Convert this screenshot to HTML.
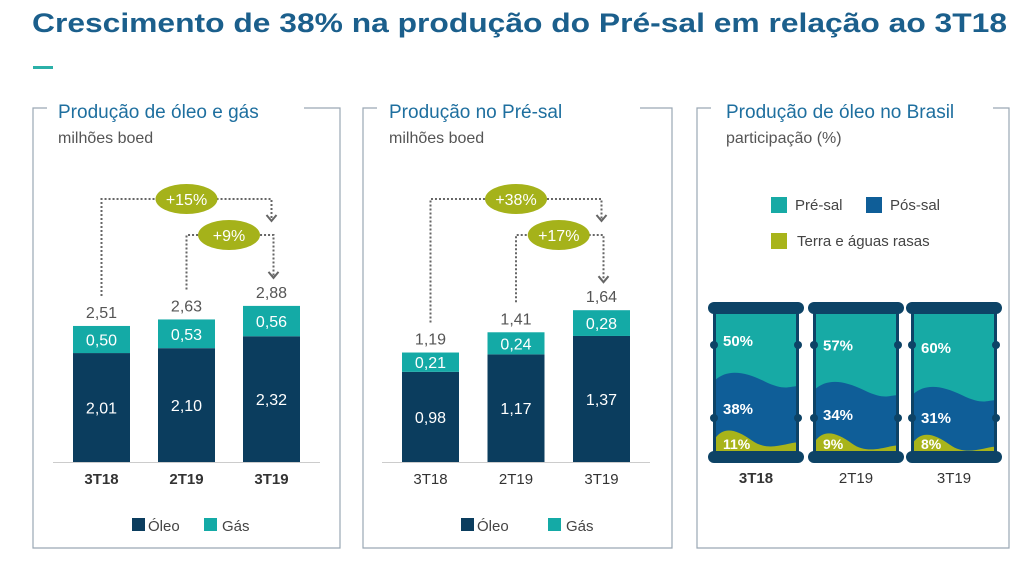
<!DOCTYPE html>
<html><head><meta charset="utf-8">
<style>
html,body{margin:0;padding:0;background:#fff;}
svg{display:block;font-family:"Liberation Sans",sans-serif;}
</style></head>
<body>
<svg id="s" width="1024" height="563" viewBox="0 0 1024 563" xmlns="http://www.w3.org/2000/svg">
  <text x="32" y="32" font-size="27" font-weight="bold" fill="#1b5f8c" textLength="975" lengthAdjust="spacingAndGlyphs">Crescimento de 38% na produção do Pré-sal em relação ao 3T18</text>
  <rect x="33" y="66" width="20" height="3" fill="#2bb0a8"/>

  <path d="M47,108 H33 V548 H340 V108 H304" fill="none" stroke="#9aa8b4" stroke-width="1.2"/>
  <path d="M377,108 H363 V548 H672 V108 H640" fill="none" stroke="#9aa8b4" stroke-width="1.2"/>
  <path d="M711,108 H697 V548 H1009 V108 H993" fill="none" stroke="#9aa8b4" stroke-width="1.2"/>

  <text x="58" y="118" font-size="19" fill="#1e6f9f">Produção de óleo e gás</text>
  <text x="58" y="143" font-size="16" fill="#555">milhões boed</text>
  <text x="389" y="118" font-size="19" fill="#1e6f9f">Produção no Pré-sal</text>
  <text x="389" y="143" font-size="16" fill="#555">milhões boed</text>
  <text x="726" y="118" font-size="19" fill="#1e6f9f">Produção de óleo no Brasil</text>
  <text x="726" y="143" font-size="16" fill="#555">participação (%)</text>

  <rect x="132" y="518" width="13" height="13" fill="#0b3d5e"/>
  <text x="148" y="531" font-size="15" fill="#444">Óleo</text>
  <rect x="204" y="518" width="13" height="13" fill="#14aaa6"/>
  <text x="222" y="531" font-size="15" fill="#444">Gás</text>
  <rect x="461" y="518" width="13" height="13" fill="#0b3d5e"/>
  <text x="477" y="531" font-size="15" fill="#444">Óleo</text>
  <rect x="548" y="518" width="13" height="13" fill="#14aaa6"/>
  <text x="566" y="531" font-size="15" fill="#444">Gás</text>

  <rect x="771" y="197" width="16" height="16" fill="#17aaa5"/>
  <text x="795" y="210" font-size="15" fill="#444">Pré-sal</text>
  <rect x="866" y="197" width="16" height="16" fill="#0f5e98"/>
  <text x="890" y="210" font-size="15" fill="#444">Pós-sal</text>
  <rect x="771" y="233" width="16" height="16" fill="#a8b41a"/>
  <text x="797" y="246" font-size="15" fill="#444">Terra e águas rasas</text>

  <g id="g1"></g><g id="g2"></g><g id="g3"></g>
</svg>
<script>
const categories = ["3T18","2T19","3T19"];
const totalOil = [2.01, 2.10, 2.32];
const totalGas = [0.50, 0.53, 0.56];
const totalLabels = ["2,51","2,63","2,88"];
const oilLabels = ["2,01","2,10","2,32"];
const gasLabels = ["0,50","0,53","0,56"];
const preOil = [0.98, 1.17, 1.37];
const preGas = [0.21, 0.24, 0.28];
const preTotalLabels = ["1,19","1,41","1,64"];
const preOilLabels = ["0,98","1,17","1,37"];
const preGasLabels = ["0,21","0,24","0,28"];
const sharePre = [50, 57, 60];
const sharePos = [38, 34, 31];
const shareTerra = [11, 9, 8];
const growth1 = ["+15%","+9%"];
const growth2 = ["+38%","+17%"];

const NS="http://www.w3.org/2000/svg";
function mk(tag, attrs, parent, txt){const e=document.createElementNS(NS,tag);for(const k in attrs)e.setAttribute(k,attrs[k]);if(txt!==undefined)e.textContent=txt;parent.appendChild(e);return e;}

function stacked(g, x0, step, scale, oil, gas, tl, ol, gl, growth, boldCats){
  const base=462, w=57;
  const yv=v=>base-v*scale;
  mk('line',{x1:x0-20,x2:x0+2*step+w+20,y1:base+0.5,y2:base+0.5,stroke:'#ccc'},g);
  const tops=[];
  for(let i=0;i<categories.length;i++){
    const x=x0+i*step, cx=x+w/2;
    const r1=mk('rect',{x:x,y:yv(oil[i]),width:w,height:oil[i]*scale,fill:'#0b3d5e'},g);
    
    
    const r2=mk('rect',{x:x,y:yv(oil[i]+gas[i]),width:w,height:gas[i]*scale,fill:'#14aaa6'},g);
    
    
    const t1=mk('text',{x:cx,y:(yv(oil[i])+base)/2+6,'text-anchor':'middle','font-size':16,fill:'#fff'},g,ol[i]);
    
    
    const t2=mk('text',{x:cx,y:(yv(oil[i])+yv(oil[i]+gas[i]))/2+6,'text-anchor':'middle','font-size':16,fill:'#fff'},g,gl[i]);
    
    
    const t3=mk('text',{x:cx,y:yv(oil[i]+gas[i])-8,'text-anchor':'middle','font-size':16,fill:'#555'},g,tl[i]);
    
    
    const t4=mk('text',{x:cx,y:484,'text-anchor':'middle','font-size':15,fill:'#333','font-weight':boldCats?'bold':'normal'},g,categories[i]);
    
    
    tops.push({cx:cx,top:yv(oil[i]+gas[i])-30});
  }
  const ax=tops[2].cx;
  const yA=199, yB=235;
  const dots={fill:'none',stroke:'#666','stroke-width':2,'stroke-dasharray':'2 2'};
  const p1=mk('path',Object.assign({d:`M${tops[0].cx},${tops[0].top} V${yA} H${ax} V${yA+20}`},dots),g);
  
  
  const p2=mk('path',Object.assign({d:`M${tops[1].cx},${tops[1].top} V${yB} H${ax+2} V${tops[2].top}`},dots),g);
  
  
  [[ax,yA+22],[ax+2,tops[2].top+2]].forEach(([x,y])=>{
    const a=mk('path',{d:`M${x-5},${y-6} L${x},${y} L${x+5},${y-6}`,fill:'none',stroke:'#666','stroke-width':2},g);
    
    
  });
  [[(tops[0].cx+ax)/2,yA,growth[0]],[(tops[1].cx+ax)/2,yB,growth[1]]].forEach(([x,y,t],k)=>{
    const e=mk('ellipse',{cx:x,cy:y,rx:31,ry:15,fill:'#a5b21a'},g);
    
    
    const tt=mk('text',{x:x,y:y+6,'text-anchor':'middle','font-size':16,fill:'#fff'},g,t);
    
    
  });
}
stacked(document.getElementById('g1'),73,85,54.2,totalOil,totalGas,totalLabels,oilLabels,gasLabels,growth1,true);
stacked(document.getElementById('g2'),402,85.5,92,preOil,preGas,preTotalLabels,preOilLabels,preGasLabels,growth2,false);

const g3=document.getElementById('g3');
const bx=[708,808,906], bw=96, bTop=313, bBot=452, bH=bBot-bTop;
for(let i=0;i<categories.length;i++){
  const x=bx[i], L=x+7, R=x+bw-7, W=R-L;
  const tot=sharePre[i]+sharePos[i]+shareTerra[i];
  const yPos=bBot-(sharePos[i]+shareTerra[i])/tot*bH;
  const yTer=bBot-shareTerra[i]/tot*bH;
  const b=mk('rect',{x:L,y:bTop,width:W,height:bH,fill:'#17aaa5'},g3);
  
  
  const w1=mk('path',{d:`M${L},${yPos-3} C${L+W*0.15},${yPos-14} ${L+W*0.35},${yPos-12} ${L+W*0.6},${yPos-2} S${R-8},${yPos+3} ${R},${yPos+3} V${bBot} H${L} Z`,fill:'#0f5e98'},g3);
  
  
  const w2=mk('path',{d:`M${L},${yTer+2} C${L+W*0.1},${yTer-10} ${L+W*0.25},${yTer-8} ${L+W*0.45},${yTer+4} S${R-10},${yTer+6} ${R},${yTer+6} V${bBot} H${L} Z`,fill:'#a8b41a'},g3);
  
  
  mk('rect',{x:L-2,y:bTop,width:3,height:bH,fill:'#0d4366'},g3);
  mk('rect',{x:R-1,y:bTop,width:3,height:bH,fill:'#0d4366'},g3);
  const c1=mk('rect',{x:x,y:bTop-11,width:bw,height:12,rx:6,fill:'#0d4366'},g3);
  
  
  const c2=mk('rect',{x:x,y:bBot-1,width:bw,height:12,rx:6,fill:'#0d4366'},g3);
  
  
  [345,418].forEach(y=>{mk('circle',{cx:L-1,cy:y,r:4,fill:'#0d4366'},g3);mk('circle',{cx:R+1,cy:y,r:4,fill:'#0d4366'},g3);});
  const lx=L+8;
  const t1=mk('text',{x:lx,y:(bTop+yPos)/2-2,'font-size':15,'font-weight':'bold',fill:'#fff'},g3,sharePre[i]+'%');
  
  
  const t2=mk('text',{x:lx,y:(yPos+yTer)/2+4,'font-size':15,'font-weight':'bold',fill:'#fff'},g3,sharePos[i]+'%');
  
  
  const t3=mk('text',{x:lx,y:bBot-3,'font-size':14,'font-weight':'bold',fill:'#fff'},g3,shareTerra[i]+'%');
  
  
  const t4=mk('text',{x:x+bw/2,y:483,'text-anchor':'middle','font-size':15,fill:'#333','font-weight':i===0?'bold':'normal'},g3,categories[i]);
  
  
}
</script>
</body></html>
